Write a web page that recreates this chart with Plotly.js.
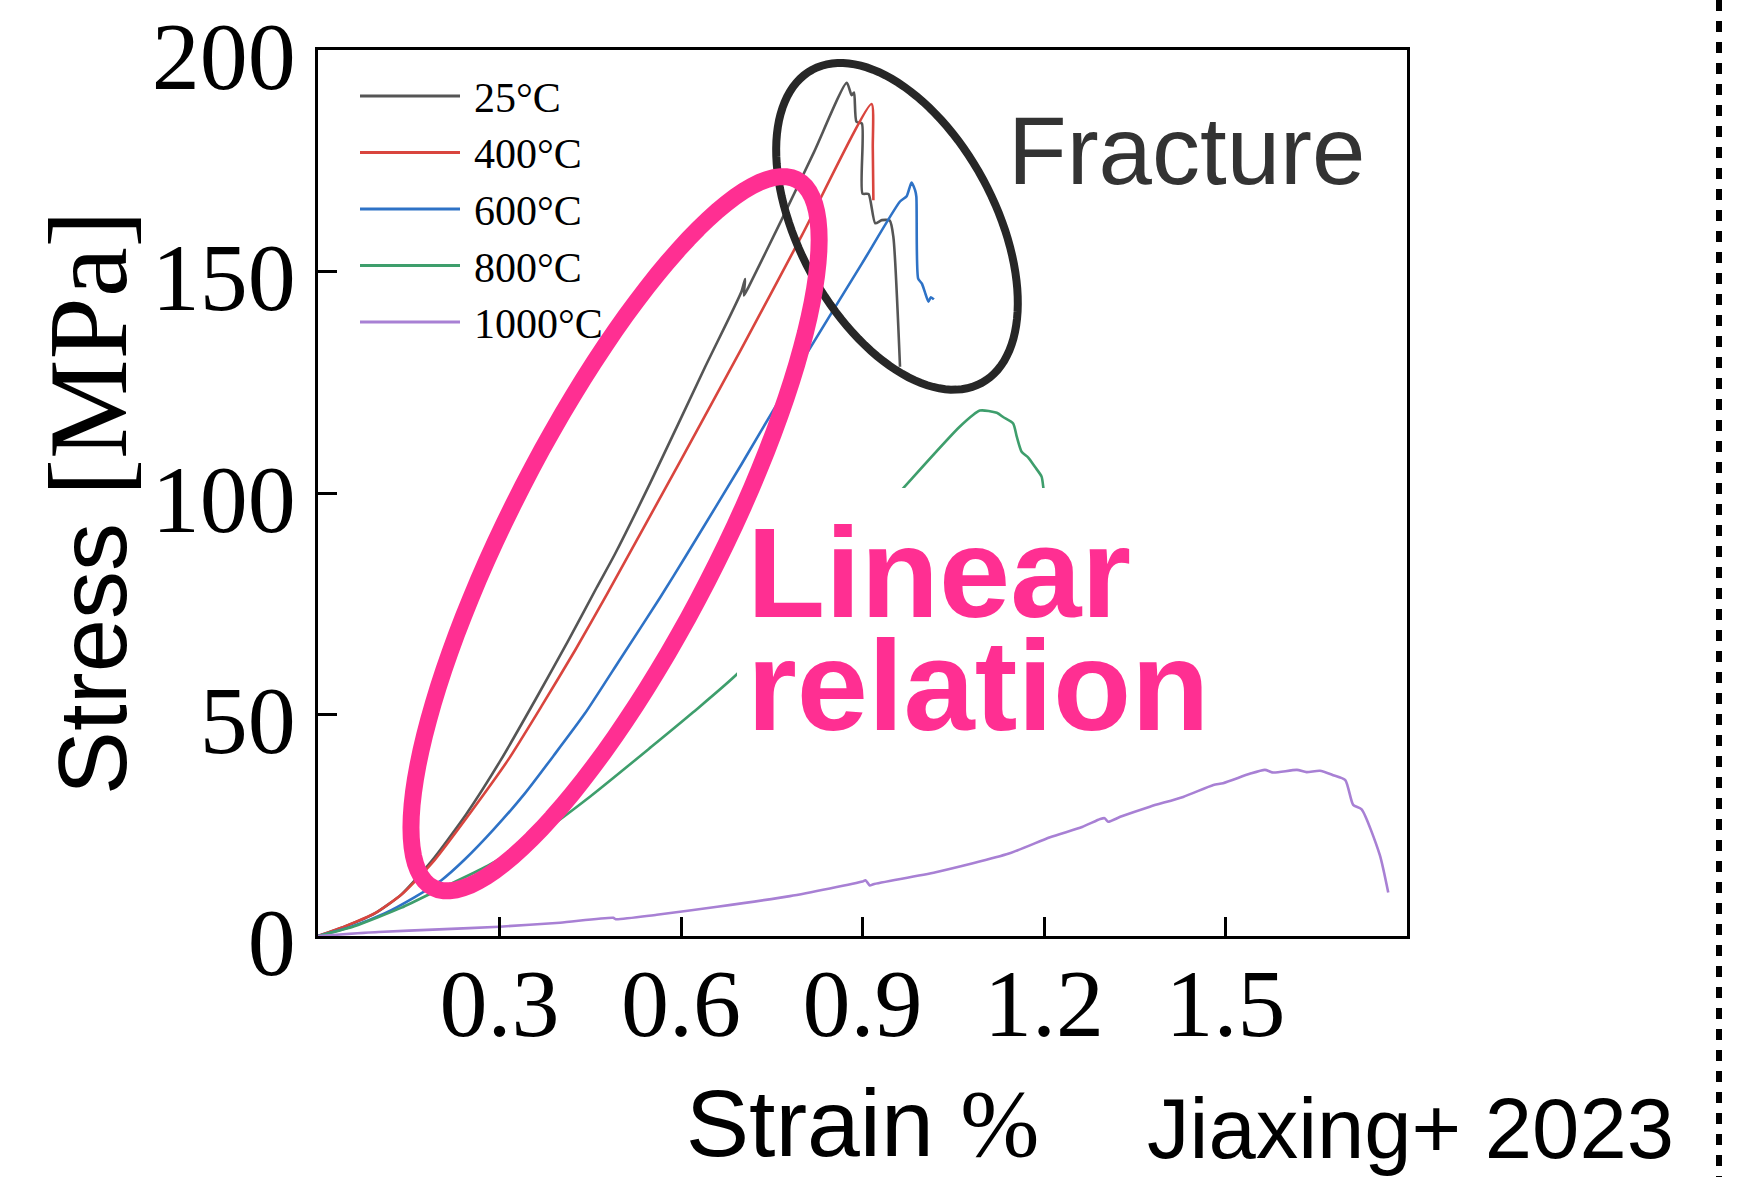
<!DOCTYPE html>
<html>
<head>
<meta charset="utf-8">
<script src="https://cdn.plot.ly/plotly-3.0.1.min.js"></script>
<style>
  html, body { margin: 0; padding: 0; background: #ffffff; }
  #chart { width: 1737px; height: 1177px; }
</style>
</head>
<body>
<div id="chart"></div>
<script>
// Tensile stress–strain curves measured at five temperatures
const seriesNames = ['25°C', '400°C', '600°C', '800°C', '1000°C'];

const strain25 = [0, 0.044, 0.094, 0.138, 0.187, 0.245, 0.302, 0.36, 0.413, 0.46, 0.49, 0.55, 0.64, 0.700, 0.706, 0.704, 0.712, 0.766, 0.82, 0.874, 0.882, 0.886, 0.890, 0.899, 0.900, 0.910, 0.921, 0.932, 0.945, 0.951, 0.962];
const stress25 = [0, 2.1, 5.1, 9.4, 16.8, 27.5, 39.7, 53.5, 66.5, 78.5, 86.0, 102.5, 128.5, 145.5, 148.3, 144.6, 146.6, 161.6, 177.0, 192.6, 189.8, 190.4, 183.8, 183.4, 167.6, 167.5, 160.9, 161.6, 161.5, 157.8, 128.5];

const strain400 = [0, 0.045, 0.095, 0.14, 0.193, 0.25, 0.314, 0.37, 0.425, 0.477, 0.6, 0.7, 0.8, 0.915, 0.917, 0.918];
const stress400 = [0, 2.2, 5.2, 9.6, 17.2, 27.5, 39.7, 52.0, 64.5, 77.0, 107.5, 132.6, 158.2, 187.8, 178.0, 166.1];

const strain600 = [0, 0.055, 0.11, 0.16, 0.204, 0.242, 0.29, 0.342, 0.39, 0.441, 0.5, 0.565, 0.609, 0.7, 0.808, 0.9, 0.962, 0.973, 0.981, 0.987, 0.989, 0.992, 0.998, 1.003, 1.009, 1.013, 1.018];
const stress600 = [0, 2.1, 5.1, 8.8, 12.6, 17.2, 24.0, 32.2, 40.8, 50.2, 62.6, 76.3, 86.0, 106.5, 131.5, 152.0, 165.8, 167.0, 170.1, 168.3, 166.9, 148.4, 147.3, 145.4, 143.2, 144.2, 143.7];

const strain800 = [0, 0.06, 0.138, 0.2, 0.28, 0.358, 0.45, 0.551, 0.62, 0.694, 0.83, 0.9675, 1.061, 1.094, 1.122, 1.133, 1.149, 1.155, 1.163, 1.174, 1.185, 1.196, 1.199, 1.203];
const stress800 = [0, 2.2, 6.4, 10.5, 15.8, 22.2, 31.5, 42.7, 50.5, 59.3, 80.0, 101.1, 115.0, 118.6, 118.1, 117.1, 115.7, 112.7, 109.3, 108.0, 105.9, 103.7, 101.1, 96.0];

const strain1000 = [0, 0.1, 0.2, 0.3, 0.4, 0.488, 0.492, 0.56, 0.66, 0.78, 0.9, 0.905, 0.912, 0.918, 1.021, 1.142, 1.21, 1.263, 1.293, 1.3, 1.306, 1.326, 1.375, 1.43, 1.48, 1.496, 1.54, 1.565, 1.579, 1.618, 1.634, 1.656, 1.678, 1.698, 1.711, 1.725, 1.755, 1.769];
const stress1000 = [0, 0.9, 1.5, 2.1, 3.0, 4.1, 3.8, 4.8, 6.6, 9.0, 12.3, 12.6, 11.4, 11.7, 14.4, 18.6, 22.3, 24.6, 26.4, 26.6, 25.8, 26.9, 29.2, 31.4, 34.1, 34.5, 36.6, 37.5, 36.9, 37.5, 37.0, 37.3, 36.3, 35.2, 29.6, 28.6, 18.3, 9.8];

const xTickVals = [0.3, 0.6, 0.9, 1.2, 1.5];
const xTickText = ['0.3', '0.6', '0.9', '1.2', '1.5'];
const yTickVals = [0, 50, 100, 150, 200];
const yTickText = ['0', '50', '100', '150', '200'];

// Styling
const seriesColors = ['#555555', '#d9453e', '#2e72c6', '#3e9e6c', '#a880d4'];
const PINK = '#ff2f92';
const SERIF = '"Liberation Serif", "Times New Roman", serif';
const SANS = '"Liberation Sans", Arial, Helvetica, sans-serif';

// Plot-area geometry (pixels) and axis ranges
const W = 1737, H = 1177;
const L = 318, R = 1407, T = 50, B = 936;
const X_RANGE = [0, 1.8], Y_RANGE = [0, 200];
const pxPerX = (R - L) / (X_RANGE[1] - X_RANGE[0]);
const pxPerY = (B - T) / (Y_RANGE[1] - Y_RANGE[0]);
const paperX = px => (px - L) / (R - L);
const paperY = py => (B - py) / (B - T);

// Rotated ellipse as an SVG path in data coordinates.
// Centre in data units, semi-axes in pixels, angle in degrees (counter-clockwise).
function ellipsePath(cx, cy, a, b, angleDeg) {
  const th = angleDeg * Math.PI / 180;
  const pts = [];
  const n = 120;
  for (let i = 0; i <= n; i++) {
    const t = 2 * Math.PI * i / n;
    const dx = a * Math.cos(th) * Math.cos(t) - b * Math.sin(th) * Math.sin(t);
    const dy = a * Math.sin(th) * Math.cos(t) + b * Math.cos(th) * Math.sin(t);
    pts.push((cx + dx / pxPerX).toFixed(5) + ',' + (cy + dy / pxPerY).toFixed(4));
  }
  return 'M' + pts.join('L') + 'Z';
}

const xs = [strain25, strain400, strain600, strain800, strain1000];
const ys = [stress25, stress400, stress600, stress800, stress1000];

const traces = seriesNames.map((name, i) => ({
  type: 'scatter',
  mode: 'lines',
  name: name,
  x: xs[i],
  y: ys[i],
  line: { color: seriesColors[i], width: 2.6, shape: 'spline', smoothing: 0.6 },
  showlegend: false,
  hoverinfo: 'skip'
}));

const shapes = [];
const annotations = [];

// White panel behind the "Linear relation" label
shapes.push({
  type: 'rect', xref: 'paper', yref: 'paper', layer: 'above',
  x0: paperX(737), x1: paperX(1215), y0: paperY(745), y1: paperY(488),
  fillcolor: '#ffffff', line: { width: 0 }
});

// Fracture region outline
shapes.push({
  type: 'path', xref: 'x', yref: 'y', layer: 'above',
  path: ellipsePath(0.957, 160.2, 178, 98, 118.4),
  line: { color: '#272727', width: 8 }
});

// Linear-region outline
shapes.push({
  type: 'path', xref: 'x', yref: 'y', layer: 'above',
  path: ellipsePath(0.491, 90.8, 398, 104, 62.8),
  line: { color: PINK, width: 17 }
});

// Legend: line samples with labels
const LEG_Y0 = 96, LEG_DY = 56.5;
seriesNames.forEach((name, i) => {
  const yy = LEG_Y0 + i * LEG_DY;
  shapes.push({
    type: 'line', xref: 'paper', yref: 'paper', layer: 'above',
    x0: paperX(360), x1: paperX(460), y0: paperY(yy), y1: paperY(yy),
    line: { color: seriesColors[i], width: 3 }
  });
  annotations.push({
    xref: 'paper', yref: 'paper', x: paperX(472), y: paperY(yy + 2),
    xanchor: 'left', yanchor: 'middle', showarrow: false,
    text: name, font: { family: SERIF, size: 42, color: '#000000' }
  });
});

// Dotted separator at the right edge
shapes.push({
  type: 'line', xref: 'paper', yref: 'paper', layer: 'above',
  x0: paperX(1719), x1: paperX(1719), y0: paperY(0), y1: paperY(H),
  line: { color: '#000000', width: 6, dash: '11px,10px' }
});

// Stress axis label (mixed sans / serif)
annotations.push({
  xref: 'paper', yref: 'paper', x: paperX(88), y: paperY(503),
  xanchor: 'center', yanchor: 'middle', showarrow: false, textangle: -90,
  text: 'Stress <span style="font-family:Liberation Serif;font-size:112px">[MPa]</span>',
  font: { family: SANS, size: 96, color: '#000000' }
});

annotations.push({
  xref: 'paper', yref: 'paper', x: paperX(1006), y: paperY(150),
  xanchor: 'left', yanchor: 'middle', showarrow: false,
  text: 'Fracture', font: { family: SANS, size: 96, color: '#333333' }
});
annotations.push({
  xref: 'paper', yref: 'paper', x: paperX(745), y: paperY(572),
  xanchor: 'left', yanchor: 'middle', showarrow: false,
  text: '<b>Linear</b>', font: { family: SANS, size: 128, color: PINK }
});
annotations.push({
  xref: 'paper', yref: 'paper', x: paperX(745), y: paperY(685),
  xanchor: 'left', yanchor: 'middle', showarrow: false,
  text: '<b>relation</b>', font: { family: SANS, size: 128, color: PINK }
});
annotations.push({
  xref: 'paper', yref: 'paper', x: paperX(1410), y: paperY(1128),
  xanchor: 'center', yanchor: 'middle', showarrow: false,
  text: 'Jiaxing+ 2023', font: { family: SANS, size: 85, color: '#000000' }
});

const axisCommon = {
  showline: true, linecolor: '#000000', linewidth: 3, mirror: true,
  ticks: 'inside', ticklen: 19, tickwidth: 3, tickcolor: '#000000',
  showgrid: false, zeroline: false, tickmode: 'array',
  ticklabeloverflow: 'allow',
  tickfont: { family: SERIF, size: 96, color: '#000000' }
};

const layout = {
  width: W, height: H,
  margin: { l: L, r: W - R, t: T, b: H - B, pad: 0 },
  paper_bgcolor: '#ffffff', plot_bgcolor: '#ffffff',
  showlegend: false,
  xaxis: Object.assign({}, axisCommon, {
    range: X_RANGE, tickvals: xTickVals, ticktext: xTickText,
    ticklabelstandoff: -18,
    title: {
      text: 'Strain <span style="font-family:Liberation Serif">%</span>',
      font: { family: SANS, size: 95, color: '#000000' },
      standoff: 48
    }
  }),
  yaxis: Object.assign({}, axisCommon, {
    range: Y_RANGE, tickvals: yTickVals, ticktext: yTickText,
    ticklabelshift: 5
  }),
  shapes: shapes,
  annotations: annotations
};

Plotly.newPlot('chart', traces, layout, { staticPlot: true, displayModeBar: false });
</script>
</body>
</html>
